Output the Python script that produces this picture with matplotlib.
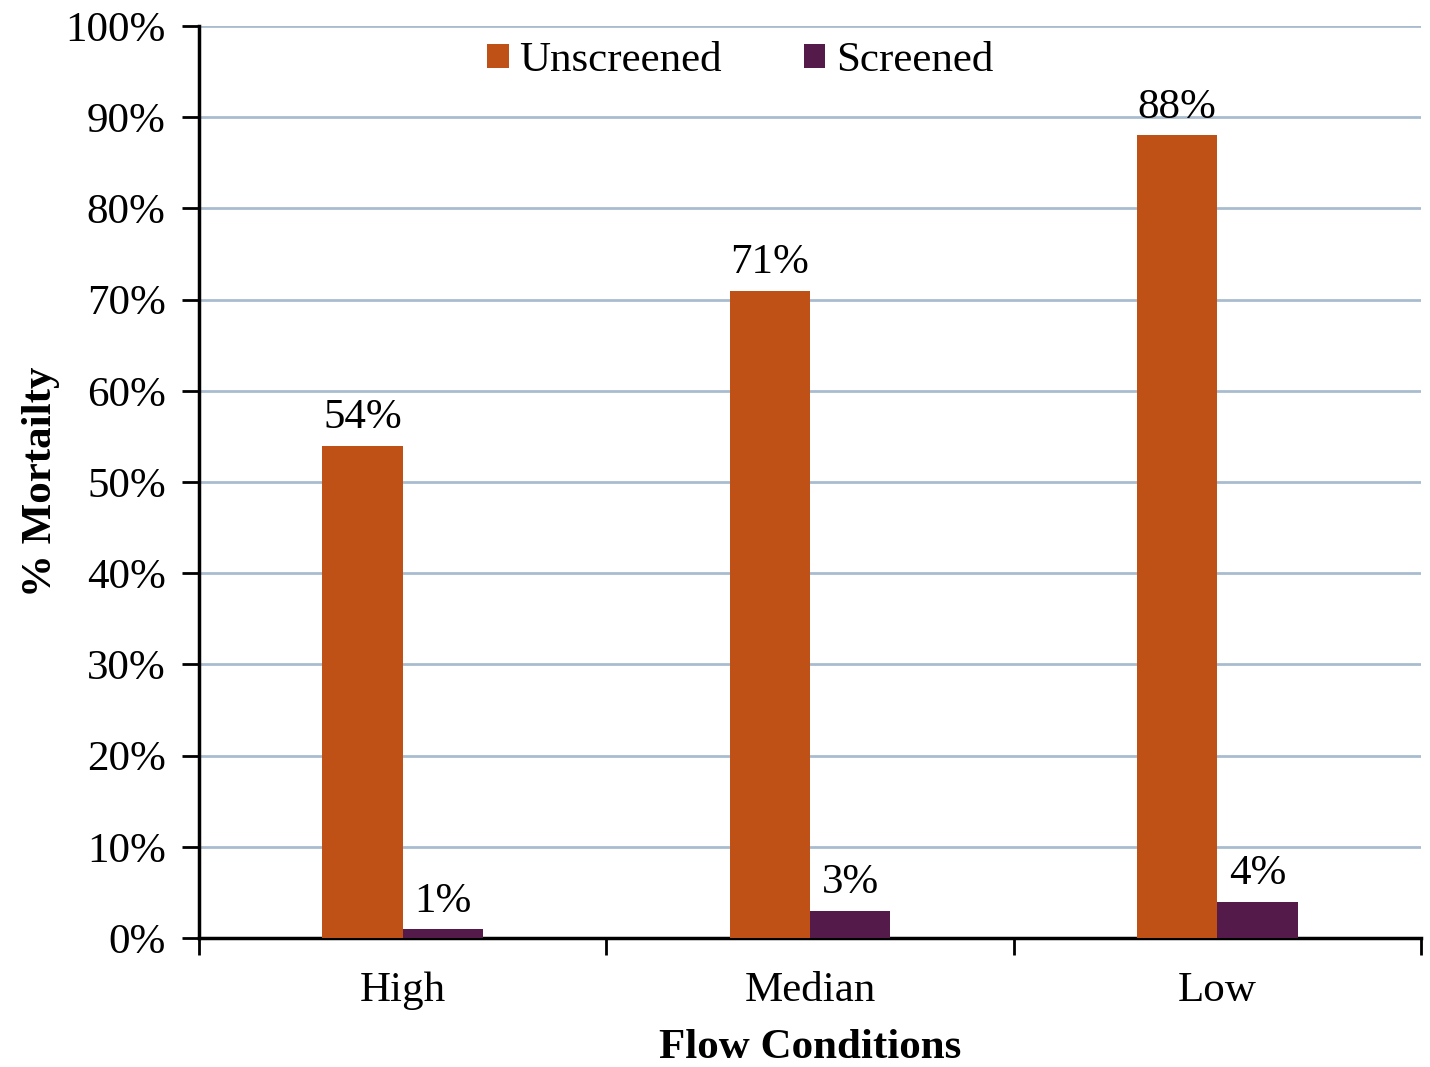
import matplotlib
matplotlib.use("Agg")
import matplotlib.pyplot as plt
import numpy as np
from matplotlib.ticker import FuncFormatter, MultipleLocator

categories = ["High", "Median", "Low"]
unscreened = [54, 71, 88]
screened = [1, 3, 4]

ORANGE, PURPLE, GRID = "#BF5016", "#541A4A", "#A9BCCF"
FS = 31

plt.rcParams["font.family"] = ["Liberation Serif", "DejaVu Serif"]

fig = plt.figure(figsize=(14.3, 10.67), dpi=100)
ax = fig.add_axes([0.1392, 0.1209, 0.9937 - 0.1392, 0.9756 - 0.1209])

x = np.arange(len(categories))
w = 0.197
b1 = ax.bar(x - w / 2, unscreened, w, color=ORANGE, label="Unscreened", zorder=3)
b2 = ax.bar(x + w / 2, screened, w, color=PURPLE, label="Screened", zorder=3)
for bars, vals in ((b1, unscreened), (b2, screened)):
    for r, v in zip(bars, vals):
        ax.annotate(f"{v}%", (r.get_x() + r.get_width() / 2, v), xytext=(0, 6),
                    textcoords="offset points", ha="center", va="bottom", fontsize=FS)

ax.set_xlim(-0.5, 2.5)
ax.set_ylim(0, 100)
ax.yaxis.set_major_locator(MultipleLocator(10))
ax.yaxis.set_major_formatter(FuncFormatter(lambda v, p: f"{v:.0f}%"))
ax.grid(axis="y", color=GRID, lw=2, zorder=0)
ax.set_axisbelow(True)

ax.set_xticks([-0.5, 0.5, 1.5, 2.5])
ax.set_xticklabels([])
ax.set_xticks(x, minor=True)
ax.set_xticklabels(categories, minor=True)
ax.tick_params(axis="x", which="major", length=12, width=2, direction="out")
ax.tick_params(axis="x", which="minor", length=0, pad=24, labelsize=FS)
ax.tick_params(axis="y", length=12, width=2, labelsize=FS, pad=12)

for s in ("top", "right"):
    ax.spines[s].set_visible(False)
for s in ("left", "bottom"):
    ax.spines[s].set_linewidth(2.5)

ax.set_xlabel("Flow Conditions", fontsize=FS, fontweight="bold", labelpad=14)
ax.set_ylabel("% Mortailty", fontsize=FS, fontweight="bold", labelpad=4)

ax.legend(loc="upper center", bbox_to_anchor=(0.443, 1.025), ncol=2, frameon=False,
          fontsize=FS, handlelength=0.5, handleheight=0.5, handletextpad=0.25, columnspacing=1.9)

fig.savefig("out.png")
